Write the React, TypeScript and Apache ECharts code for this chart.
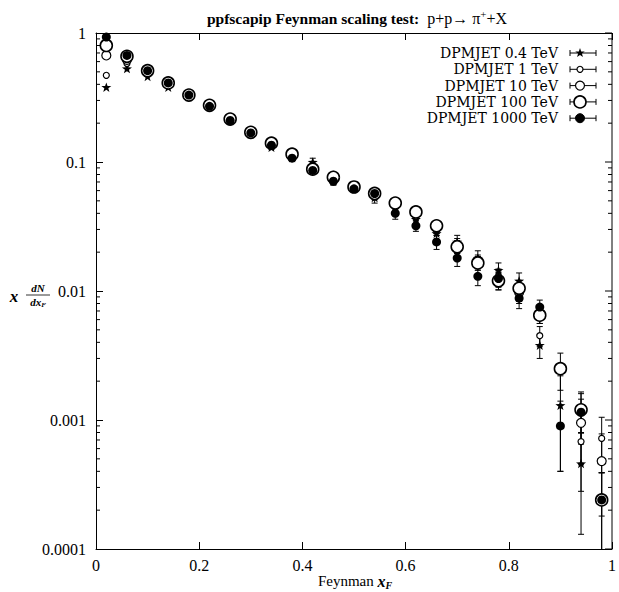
import React, { useEffect, useRef } from "react";
import * as echarts from "echarts";

const xBins = [0.02, 0.06, 0.1, 0.14, 0.18, 0.22, 0.26, 0.3, 0.34, 0.38, 0.42, 0.46, 0.5, 0.54, 0.58, 0.62, 0.66, 0.7, 0.74, 0.78, 0.82, 0.86, 0.9, 0.94, 0.98];
const seriesNames = ["DPMJET 0.4 TeV", "DPMJET 1 TeV", "DPMJET 10 TeV", "DPMJET 100 TeV", "DPMJET 1000 TeV"];

const y04 = [0.38, 0.53, 0.46, 0.38, 0.32, 0.27, 0.21, 0.165, 0.13, 0.108, 0.1, 0.073, 0.064, 0.053, 0.044, 0.036, 0.028, 0.024, 0.018, 0.0145, 0.012, 0.0038, 0.0013, 0.00046, null];
const e04 = [0, 0, 0, 0, 0, 0, 0, 0, 0.005, 0.006, 0.007, 0.006, 0.005, 0.005, 0.004, 0.004, 0.003, 0.003, 0.0025, 0.002, 0.0018, 0.0008, 0.0009, 0.00033, null];

const y1 = [0.47, 0.58, 0.49, 0.4, 0.33, 0.27, 0.215, 0.17, 0.135, 0.11, 0.092, 0.075, 0.065, 0.055, 0.046, 0.038, 0.03, 0.023, 0.017, 0.013, 0.0095, 0.0045, null, 0.00068, 0.00072];
const e1 = [0, 0, 0, 0, 0, 0, 0, 0, 0.004, 0.005, 0.005, 0.005, 0.004, 0.004, 0.004, 0.003, 0.003, 0.0025, 0.002, 0.0018, 0.0015, 0.0008, null, 0.0004, 0.00033];

const y10 = [0.67, 0.62, 0.5, 0.41, 0.33, 0.27, 0.215, 0.17, 0.14, 0.115, 0.09, 0.078, 0.063, 0.056, 0.047, 0.04, 0.031, 0.022, 0.0165, 0.012, 0.0098, 0.0065, null, 0.00095, 0.00048];
const e10 = [0, 0, 0, 0, 0, 0, 0, 0, 0.004, 0.005, 0.005, 0.005, 0.004, 0.004, 0.004, 0.003, 0.003, 0.0025, 0.002, 0.0018, 0.0015, 0.0009, null, 0.0005, 0.0003];

const y100 = [0.8, 0.66, 0.51, 0.41, 0.33, 0.275, 0.215, 0.17, 0.14, 0.115, 0.088, 0.076, 0.064, 0.057, 0.048, 0.041, 0.032, 0.022, 0.0165, 0.012, 0.0105, 0.0065, 0.0025, 0.0012, 0.00024];
const e100 = [0, 0, 0, 0, 0, 0, 0, 0, 0.004, 0.005, 0.005, 0.005, 0.004, 0.004, 0.004, 0.003, 0.003, 0.0025, 0.002, 0.0018, 0.0015, 0.0009, 0.0008, 0.0004, 0.00015];

const y1000 = [0.93, 0.67, 0.51, 0.41, 0.33, 0.27, 0.21, 0.168, 0.135, 0.107, 0.086, 0.071, 0.062, 0.057, 0.04, 0.032, 0.024, 0.018, 0.013, 0.0125, 0.0088, 0.0075, 0.0009, 0.00115, 0.00024];
const e1000 = [0, 0, 0, 0, 0, 0, 0, 0, 0.004, 0.005, 0.005, 0.005, 0.004, 0.004, 0.004, 0.003, 0.003, 0.0025, 0.002, 0.0018, 0.0015, 0.001, 0.0005, 0.0005, 0.00015];

const xTickLabels = ["0", "0.2", "0.4", "0.6", "0.8", "1"];
const yTickLabels = ["0.0001", "0.001", "0.01", "0.1", "1"];

const FONT = "Liberation Serif";
const LEGEND_FONT = "DejaVu Serif";
const STAR_PATH = "path://M0,-10L2.35,-3.24L9.51,-3.09L3.8,1.24L5.88,8.09L0,4L-5.88,8.09L-3.8,1.24L-9.51,-3.09L-2.35,-3.24Z";

type Style = { symbol: string; size: number; fill: string; border: number };
const markerStyles: Style[] = [
  { symbol: STAR_PATH, size: 10, fill: "#000", border: 0 },
  { symbol: "circle", size: 6, fill: "#fff", border: 1.2 },
  { symbol: "circle", size: 9, fill: "#fff", border: 1.2 },
  { symbol: "circle", size: 12, fill: "#fff", border: 1.6 },
  { symbol: "circle", size: 9, fill: "#000", border: 0 },
];

const allValues = [y04, y1, y10, y100, y1000];
const allErrors = [e04, e1, e10, e100, e1000];

function starPoints(cx: number, cy: number, r: number): number[][] {
  const pts: number[][] = [];
  for (let i = 0; i < 10; i++) {
    const a = -Math.PI / 2 + (i * Math.PI) / 5;
    const rr = i % 2 === 0 ? r : r * 0.4;
    pts.push([cx + rr * Math.cos(a), cy + rr * Math.sin(a)]);
  }
  return pts;
}

export default function App() {
  const ref = useRef<HTMLDivElement>(null);
  useEffect(() => {
    if (!ref.current) return;
    const chart = echarts.init(ref.current, undefined, { renderer: "svg" });

    const minorTicks: number[] = [];
    const majorTicks: number[] = [];
    for (let d = -4; d < 0; d++) {
      for (let k = 2; k <= 9; k++) minorTicks.push(k * Math.pow(10, d));
    }
    for (let d = -4; d <= 0; d++) majorTicks.push(Math.pow(10, d));

    const series: any[] = [];
    allValues.forEach((vals, si) => {
      const errs = allErrors[si];
      const errData: number[][] = [];
      vals.forEach((v, i) => {
        const e = errs[i];
        if (v != null && e != null && e > 0) {
          errData.push([xBins[i], Math.max(v - e, 1e-6), v + e]);
        }
      });
      series.push({
        type: "custom",
        name: seriesNames[si] + " err",
        clip: true,
        silent: true,
        data: errData,
        encode: { x: 0, y: [1, 2] },
        renderItem: (params: any, api: any) => {
          const x = api.value(0);
          const lo = api.coord([x, api.value(1)]);
          const hi = api.coord([x, api.value(2)]);
          const w = 3;
          const st = { stroke: "#000", lineWidth: 1 };
          return {
            type: "group",
            children: [
              { type: "line", shape: { x1: lo[0], y1: lo[1], x2: hi[0], y2: hi[1] }, style: st },
              { type: "line", shape: { x1: lo[0] - w, y1: lo[1], x2: lo[0] + w, y2: lo[1] }, style: st },
              { type: "line", shape: { x1: hi[0] - w, y1: hi[1], x2: hi[0] + w, y2: hi[1] }, style: st },
            ],
          };
        },
      });
    });
    allValues.forEach((vals, si) => {
      const ms = markerStyles[si];
      series.push({
        type: "scatter",
        name: seriesNames[si],
        symbol: ms.symbol,
        symbolSize: ms.size,
        symbolKeepAspect: true,
        itemStyle: { color: ms.fill, borderColor: "#000", borderWidth: ms.border, opacity: 1 },
        data: vals.map((v, i) => (v == null ? null : [xBins[i], v])).filter((d) => d != null),
        z: 3,
      });
    });
    series.push({
      type: "custom",
      name: "frame ticks",
      silent: true,
      data: [[0.5, 0.01]],
      renderItem: (params: any, api: any) => {
        const children: any[] = [];
        const st = { stroke: "#000", lineWidth: 1 };
        for (const v of minorTicks) {
          const pl = api.coord([0, v]);
          const pr = api.coord([1, v]);
          children.push({ type: "line", shape: { x1: pl[0], y1: pl[1], x2: pl[0] + 4, y2: pl[1] }, style: st });
          children.push({ type: "line", shape: { x1: pr[0], y1: pr[1], x2: pr[0] - 4, y2: pr[1] }, style: st });
        }
        for (const v of majorTicks) {
          const pr = api.coord([1, v]);
          children.push({ type: "line", shape: { x1: pr[0], y1: pr[1], x2: pr[0] - 7, y2: pr[1] }, style: st });
        }
        const top = api.coord([1, 1]);
        const bot = api.coord([1, 0.0001]);
        children.push({ type: "line", shape: { x1: top[0], y1: top[1], x2: bot[0], y2: bot[1] }, style: st });
        return { type: "group", children };
      },
    });

    const legendGraphics: any[] = [];
    const rowY0 = 53;
    const rowDy = 16.3;
    seriesNames.forEach((name, i) => {
      const y = rowY0 + i * rowDy;
      const ms = markerStyles[i];
      legendGraphics.push({
        type: "text",
        x: 558,
        y,
        style: {
          text: name,
          fill: "#000",
          fontFamily: LEGEND_FONT,
          fontSize: 14,
          lineHeight: 14,
          align: "right",
          verticalAlign: "middle",
        },
      });
      const st = { stroke: "#000", lineWidth: 1 };
      legendGraphics.push({ type: "line", shape: { x1: 570, y1: y, x2: 596, y2: y }, style: st });
      legendGraphics.push({ type: "line", shape: { x1: 570, y1: y - 3, x2: 570, y2: y + 3 }, style: st });
      legendGraphics.push({ type: "line", shape: { x1: 596, y1: y - 3, x2: 596, y2: y + 3 }, style: st });
      if (i === 0) {
        legendGraphics.push({ type: "polygon", shape: { points: starPoints(580, y, 5) }, style: { fill: "#000" } });
      } else {
        legendGraphics.push({
          type: "circle",
          shape: { cx: 580, cy: y, r: ms.size / 2 },
          style: { fill: ms.fill, stroke: "#000", lineWidth: ms.border || 1 },
        });
      }
    });

    chart.setOption({
      animation: false,
      backgroundColor: "#fff",
      title: {
        left: 352,
        top: 3,
        textAlign: "center",
        text: "{b|ppfscapip Feynman scaling test:}{n|  p+p\u2192 \u03c0}{s|+}{n|+X}",
        textStyle: {
          fontWeight: "normal",
          rich: {
            b: { fontFamily: FONT, fontWeight: "bold", fontSize: 15.5, color: "#000", lineHeight: 20 },
            n: { fontFamily: FONT, fontWeight: "normal", fontSize: 16, color: "#000", lineHeight: 20 },
            s: { fontFamily: FONT, fontWeight: "normal", fontSize: 11, color: "#000", lineHeight: 20, verticalAlign: "top" },
          },
        },
      },
      grid: { left: 96, right: 7, top: 33, bottom: 43 },
      xAxis: [
        {
          type: "value",
          min: 0,
          max: 1,
          interval: 0.2,
          position: "bottom",
          axisLine: { show: true, lineStyle: { color: "#000", width: 1 } },
          axisTick: { show: true, inside: true, length: 7, lineStyle: { color: "#000" } },
          axisLabel: {
            show: true,
            color: "#000",
            fontFamily: FONT,
            fontSize: 16,
            margin: 8,
            formatter: (v: number) => xTickLabels[Math.round(v / 0.2)] ?? "",
          },
          splitLine: { show: false },
        },
        {
          type: "value",
          min: 0,
          max: 1,
          interval: 0.2,
          position: "top",
          axisLine: { show: true, lineStyle: { color: "#000", width: 1 } },
          axisTick: { show: true, inside: true, length: 7, lineStyle: { color: "#000" } },
          axisLabel: { show: false },
          splitLine: { show: false },
        },
      ],
      yAxis: [
        {
          type: "log",
          logBase: 10,
          min: 0.0001,
          max: 1,
          position: "left",
          axisLine: { show: true, lineStyle: { color: "#000", width: 1 } },
          axisTick: { show: true, inside: true, length: 7, lineStyle: { color: "#000" } },
          axisLabel: {
            show: true,
            color: "#000",
            fontFamily: FONT,
            fontSize: 16,
            margin: 10,
            formatter: (v: number) => yTickLabels[Math.round(Math.log10(v)) + 4] ?? "",
          },
          splitLine: { show: false },
        },
      ],
      graphic: [
        ...legendGraphics,
        {
          type: "text",
          x: 355,
          y: 581,
          style: {
            text: "{n|Feynman }{i|x}{s|F}",
            align: "center",
            verticalAlign: "middle",
            rich: {
              n: { fontFamily: FONT, fontSize: 15, fill: "#000" },
              i: { fontFamily: FONT, fontStyle: "italic", fontWeight: "bold", fontSize: 16, fill: "#000" },
              s: { fontFamily: FONT, fontStyle: "italic", fontWeight: "bold", fontSize: 10, fill: "#000", padding: [8, 0, 0, 0] },
            },
          },
        },
        {
          type: "text",
          x: 14,
          y: 296,
          style: { text: "x", fill: "#000", font: `italic bold 17px "${FONT}"`, align: "center", verticalAlign: "middle" },
        },
        {
          type: "text",
          x: 38,
          y: 288,
          style: { text: "dN", fill: "#000", font: `italic bold 11px "${FONT}"`, align: "center", verticalAlign: "middle" },
        },
        { type: "line", shape: { x1: 26, y1: 295, x2: 50, y2: 295 }, style: { stroke: "#000", lineWidth: 0.8 } },
        {
          type: "text",
          x: 38,
          y: 302,
          style: {
            text: "{a|dx}{s|F}",
            align: "center",
            verticalAlign: "middle",
            rich: {
              a: { fontFamily: FONT, fontStyle: "italic", fontWeight: "bold", fontSize: 11, fill: "#000" },
              s: { fontFamily: FONT, fontStyle: "italic", fontWeight: "bold", fontSize: 7, fill: "#000", padding: [5, 0, 0, 0] },
            },
          },
        },
      ],
      series,
    });
    return () => chart.dispose();
  }, []);
  return <div ref={ref} style={{ width: 619, height: 592, position: "absolute", left: 0, top: 0, background: "#fff" }} />;
}
